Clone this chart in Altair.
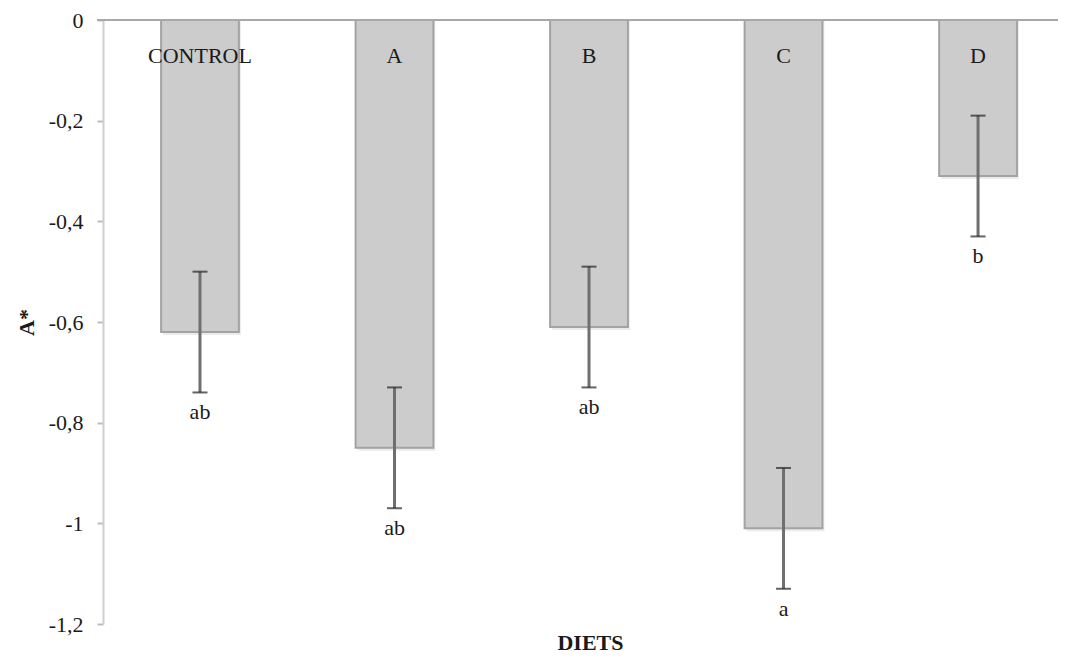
import altair as alt
import pandas as pd

diets = ["CONTROL", "A", "B", "C", "D"]
means = [-0.62, -0.85, -0.61, -1.01, -0.31]
errs = [0.12, 0.12, 0.12, 0.12, 0.12]
letters = ["ab", "ab", "ab", "a", "b"]
y_ticks = [0, -0.2, -0.4, -0.6, -0.8, -1, -1.2]

df = pd.DataFrame({"diet": diets, "mean": means, "err": errs, "letter": letters})
df["high"] = df["mean"] + df["err"]
df["low"] = df["mean"] - df["err"]

FONT = "Liberation Serif"
W, H = 950, 604

xscale = alt.Scale(domain=diets, paddingInner=0.6, paddingOuter=0.242, align=0.617)
x = alt.X("diet:N", scale=xscale, sort=diets,
          axis=alt.Axis(labels=False, ticks=False, domain=False, title="DIETS",
                        titleFont=FONT, titleFontSize=22, titleFontWeight="bold",
                        titleColor="#1a1a1a", titlePadding=8, titleX=487,
                        titleAlign="center"))
yscale = alt.Scale(domain=[-1.2, 0], nice=False, zero=False)

base = alt.Chart(df)

shadow = base.mark_bar(color="#000000", opacity=0.08, xOffset=2, yOffset=3).encode(
    x=alt.X("diet:N", scale=xscale, sort=diets),
    y=alt.Y("mean:Q", scale=yscale),
    y2=alt.datum(0),
)

bars = base.mark_bar(color="#cccccc", stroke="#a3a3a3", strokeWidth=2).encode(
    x=x,
    y=alt.Y("mean:Q", scale=yscale,
            axis=alt.Axis(values=y_ticks, title="A*", grid=False,
                          labelExpr="replace(toString(datum.value), '.', ',')",
                          labelFont=FONT, labelFontSize=22, labelColor="#1a1a1a",
                          labelPadding=14, tickSize=6, tickColor="#bdbdbd",
                          tickWidth=2, domainColor="#cfcfcf", domainWidth=2,
                          titleFont=FONT, titleFontSize=22, titleFontWeight="bold",
                          titleColor="#1a1a1a", titlePadding=10)),
    y2=alt.datum(0),
)

err_line = base.mark_rule(color="#6f6f6f", strokeWidth=3).encode(
    x=alt.X("diet:N", scale=xscale, sort=diets),
    y=alt.Y("low:Q", scale=yscale),
    y2="high:Q",
)
cap_hi = base.mark_tick(color="#222222", size=15, thickness=2).encode(
    x=alt.X("diet:N", scale=xscale, sort=diets),
    y=alt.Y("high:Q", scale=yscale),
)
cap_lo = base.mark_tick(color="#222222", size=15, thickness=2).encode(
    x=alt.X("diet:N", scale=xscale, sort=diets),
    y=alt.Y("low:Q", scale=yscale),
)

letter_text = base.mark_text(font=FONT, fontSize=22, color="#1a1a1a",
                             baseline="middle", dy=20).encode(
    x=alt.X("diet:N", scale=xscale, sort=diets),
    y=alt.Y("low:Q", scale=yscale),
    text="letter:N",
)

cat_text = base.mark_text(font=FONT, fontSize=22, color="#1a1a1a",
                          baseline="middle", dy=36).encode(
    x=alt.X("diet:N", scale=xscale, sort=diets),
    y=alt.datum(0, scale=yscale),
    text="diet:N",
)

zero_line = base.mark_rule(color="#a8a8a8", strokeWidth=2).encode(
    x=alt.value(-6),
    x2=alt.value(W + 20),
    y=alt.datum(0, scale=yscale),
)

chart = alt.layer(shadow, bars, err_line, cap_hi, cap_lo, letter_text, cat_text, zero_line).properties(
    width=W, height=H,
    background="white",
    autosize=alt.AutoSizeParams(type="none"),
    padding={"left": 95, "top": 12, "right": 5, "bottom": 34},
).configure_view(strokeWidth=0, stroke="transparent")

chart.save("out.html", embed_options={"renderer": "svg", "actions": False})
